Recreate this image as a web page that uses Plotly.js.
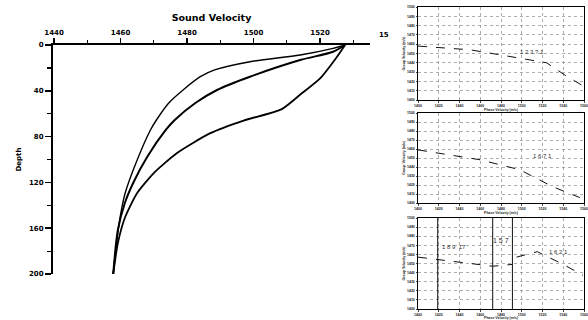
<!DOCTYPE html>
<html><head><meta charset="utf-8">
<script src="https://cdn.plot.ly/plotly-3.0.1.min.js"></script>
<style>html,body{margin:0;padding:0;background:#fff}#c{width:588px;height:320px}</style>
</head><body><div id="c"></div>
<script>
// Main chart: sound velocity profiles
const depthLeft = [0, 2.9, 8.7, 14.6, 21.8, 27.7, 39.3, 50.7, 65.5, 74.2, 100.4, 129.3, 155.5, 200];
const velLeft   = [1527.5, 1523.9, 1514.0, 1498.9, 1488.3, 1484.0, 1478.8, 1474.5, 1470.8, 1469.0, 1465.0, 1461.4, 1459.6, 1457.8];
const depthMid  = [0, 5.9, 13.1, 27.7, 39.3, 50.7, 65.5, 74.2, 97.8, 120.5, 138, 161.6, 200];
const velMid    = [1527.5, 1523.9, 1514.0, 1498.9, 1489.0, 1482.5, 1476.3, 1473.6, 1468.0, 1463.8, 1461.3, 1459.2, 1457.8];
const depthRight= [0, 10.2, 29.1, 42.2, 56, 66, 77, 94.3, 111.8, 129.3, 150.2, 173, 200];
const velRight  = [1527.5, 1525.1, 1520.0, 1514.5, 1508.5, 1497.0, 1487.0, 1477.0, 1470.0, 1465.0, 1461.4, 1459.2, 1457.8];
const velTicks  = [1440, 1460, 1480, 1500, 1520];
const depthTicks= [0, 40, 80, 120, 160, 200];

// Small panels (right side)
const p1x = [1400, 1450, 1498, 1524, 1544, 1558];
const p1y = [1458, 1454, 1445, 1440, 1425, 1416];
const p2x = [1400, 1460, 1498, 1530, 1556];
const p2y = [1459, 1448, 1437, 1418, 1406];
const p3xA = [1400, 1472, 1491];
const p3yA = [1457, 1447, 1449];
const p3xB = [1495, 1515, 1540, 1559];
const p3yB = [1457, 1463, 1449, 1437];
const p3vLines = [1419, 1472, 1491];

const W = 588, H = 320;
const fx = p => p / W, fy = p => 1 - p / H;

const traces = [
  {x: velLeft, y: depthLeft, mode: 'lines', line: {color: '#000', width: 1.4, shape: 'spline', smoothing: 0.8}, xaxis: 'x', yaxis: 'y'},
  {x: velMid, y: depthMid, mode: 'lines', line: {color: '#000', width: 2, shape: 'spline', smoothing: 0.8}, xaxis: 'x', yaxis: 'y'},
  {x: velRight, y: depthRight, mode: 'lines', line: {color: '#000', width: 1.8, shape: 'spline', smoothing: 0.6}, xaxis: 'x', yaxis: 'y'},
  {x: p1x, y: p1y, mode: 'lines', line: {color: '#111', width: 1, dash: 'dash'}, xaxis: 'x2', yaxis: 'y2'},
  {x: p2x, y: p2y, mode: 'lines', line: {color: '#111', width: 1, dash: 'dash'}, xaxis: 'x3', yaxis: 'y3'},
  {x: p3xA, y: p3yA, mode: 'lines', line: {color: '#111', width: 1, dash: 'dash'}, xaxis: 'x4', yaxis: 'y4'},
  {x: p3xB, y: p3yB, mode: 'lines', line: {color: '#111', width: 1, dash: 'dash'}, xaxis: 'x4', yaxis: 'y4'}
];
p3vLines.forEach(v => traces.push({x: [v, v], y: [1400, 1500], mode: 'lines', line: {color: '#111', width: 1}, xaxis: 'x4', yaxis: 'y4'}));

const tickFont = {family: 'DejaVu Sans, Arial', size: 7, color: '#000', weight: 'bold'};
const tinyFont = {family: 'Liberation Sans, Arial', size: 3.5, color: '#222', weight: 'bold'};

function smallX() {
  return {domain: [fx(418), fx(584)], range: [1400, 1560], dtick: 20, tick0: 1400, showgrid: true,
    gridcolor: '#777', griddash: 'dot', gridwidth: 0.6, showline: true, mirror: true, linecolor: '#000', linewidth: 1,
    ticks: 'outside', ticklen: 1.5, tickfont: tinyFont, zeroline: false,
    title: {text: 'Phase Velocity (m/s)', font: tinyFont, standoff: 1}};
}
function smallY(dom) {
  return {domain: dom, range: [1400, 1500], dtick: 10, showgrid: true, gridcolor: '#777', griddash: 'dot', gridwidth: 0.6,
    showline: true, mirror: true, linecolor: '#000', linewidth: 1, ticks: 'outside', ticklen: 1.5, tickfont: tinyFont, zeroline: false,
    title: {text: 'Group Velocity (m/s)', font: tinyFont, standoff: 1}};
}

const layout = {
  width: W, height: H, showlegend: false,
  margin: {l: 0, r: 0, t: 0, b: 0},
  paper_bgcolor: '#fff', plot_bgcolor: 'rgba(0,0,0,0)',
  xaxis: {domain: [fx(53), fx(370)], range: [1439.7, 1535], side: 'top', anchor: 'y',
    tickvals: velTicks, ticks: 'outside', ticklen: 5, tickwidth: 1.5, tickcolor: '#000',
    minor: {tickvals: [1450, 1470, 1490, 1510, 1530], ticks: 'outside', ticklen: 3, tickwidth: 1.2, tickcolor: '#000'},
    showline: true, linecolor: '#000', linewidth: 2, showgrid: false, zeroline: false, tickfont: tickFont,
    title: {text: 'Sound Velocity', font: {family: 'DejaVu Sans, Arial', size: 9.5, color: '#000', weight: 'bold'}, standoff: 6}},
  yaxis: {domain: [fy(274), fy(45)], range: [200, 0], anchor: 'x',
    tickvals: depthTicks, ticks: 'outside', ticklen: 6, tickwidth: 1.5, tickcolor: '#000',
    minor: {tickvals: [20, 60, 100, 140, 180], ticks: 'outside', ticklen: 4, tickwidth: 1.2, tickcolor: '#000'},
    showline: true, linecolor: '#000', linewidth: 2, showgrid: false, zeroline: false, tickfont: tickFont,
    title: {text: 'Depth', font: {family: 'DejaVu Sans, Arial', size: 7, color: '#000', weight: 'bold'}, standoff: 7}},
  xaxis2: Object.assign(smallX(), {anchor: 'y2'}),
  yaxis2: Object.assign(smallY([fy(100), fy(7)]), {anchor: 'x2'}),
  xaxis3: Object.assign(smallX(), {anchor: 'y3'}),
  yaxis3: Object.assign(smallY([fy(203), fy(113)]), {anchor: 'x3'}),
  xaxis4: Object.assign(smallX(), {anchor: 'y4'}),
  yaxis4: Object.assign(smallY([fy(309), fy(218)]), {anchor: 'x4'}),
  annotations: [
    {xref: 'paper', yref: 'paper', x: fx(384), y: fy(29), text: '15', showarrow: false, font: tickFont},
    {xref: 'x2', yref: 'y2', x: 1510, y: 1452, text: '1 2 3 ? 1', showarrow: false, font: {family: 'Liberation Sans', size: 6, color: '#333'}},
    {xref: 'x3', yref: 'y3', x: 1520, y: 1452, text: '1 6 7 1', showarrow: false, font: {family: 'Liberation Sans', size: 6, color: '#333'}},
    {xref: 'x4', yref: 'y4', x: 1435, y: 1468, text: '1 8 9  17', showarrow: false, font: {family: 'Liberation Sans', size: 6, color: '#333'}},
    {xref: 'x4', yref: 'y4', x: 1480, y: 1475, text: '1 5 7', showarrow: false, font: {family: 'Liberation Sans', size: 7, color: '#333'}},
    {xref: 'x4', yref: 'y4', x: 1535, y: 1463, text: '1 6 2 1', showarrow: false, font: {family: 'Liberation Sans', size: 6, color: '#333'}}
  ]
};

Plotly.newPlot('c', traces, layout, {staticPlot: true, displayModeBar: false});
</script>
</body></html>
